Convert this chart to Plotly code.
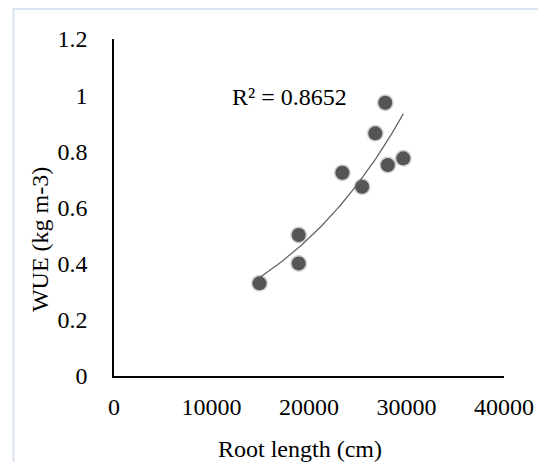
import numpy as np
import plotly.graph_objects as go

# root length (cm) vs water use efficiency (kg m-3)
root_length = [14920, 18940, 18940, 23420, 25450, 26800, 27820, 28080, 29670]
wue = [0.330, 0.502, 0.401, 0.724, 0.674, 0.864, 0.973, 0.751, 0.775]
x_ticks = [0, 10000, 20000, 30000, 40000]
y_ticks = [0, 0.2, 0.4, 0.6, 0.8, 1.0, 1.2]
r2_label = "R² = 0.8652"

font = "Liberation Serif, Times New Roman, serif"

# exponential trendline (Excel style: fit on log y)
b, ln_a = np.polyfit(root_length, np.log(wue), 1)
tx = np.linspace(min(root_length), max(root_length), 100)
ty = np.exp(ln_a) * np.exp(b * tx)

fig = go.Figure()
# soft shadow under the markers
fig.add_trace(go.Scatter(x=root_length, y=wue, mode="markers",
                         marker=dict(size=17, color="rgba(40,40,40,0.22)"),
                         hoverinfo="skip", showlegend=False))
fig.add_trace(go.Scatter(x=root_length, y=wue, mode="markers",
                         marker=dict(size=14, color="#555555"),
                         showlegend=False))
fig.add_trace(go.Scatter(x=tx, y=ty, mode="lines",
                         line=dict(color="#5f5f5f", width=1.2),
                         showlegend=False))

fig.update_xaxes(range=[0, 40000], tickvals=x_ticks, tickformat="d",
                 showgrid=False, zeroline=False, showline=True,
                 linecolor="black", linewidth=1.5, ticks="",
                 ticklabelstandoff=8,
                 tickfont=dict(family=font, size=24, color="black"))
fig.update_yaxes(range=[0, 1.2], tickvals=y_ticks,
                 showgrid=False, zeroline=False, showline=True,
                 linecolor="black", linewidth=1.5, ticks="",
                 ticklabelstandoff=20,
                 tickfont=dict(family=font, size=24, color="black"))

fig.add_annotation(x=18000, y=0.995, text=r2_label, showarrow=False,
                   font=dict(family=font, size=24, color="black"))
fig.add_annotation(x=0.476, y=-0.217, xref="paper", yref="paper",
                   text="Root length (cm)", showarrow=False,
                   xanchor="center", yanchor="middle",
                   font=dict(family=font, size=24, color="black"))
fig.add_annotation(x=-0.19, y=0.406, xref="paper", yref="paper",
                   text="WUE (kg m-3)", showarrow=False, textangle=-90,
                   xanchor="center", yanchor="middle",
                   font=dict(family=font, size=24, color="black"))

# chart area border (light blue, top-left edges visible)
fig.add_shape(type="rect", xref="paper", yref="paper",
              x0=-0.258, x1=1.3, y0=1.089, y1=-0.4,
              line=dict(color="#d9e3f0", width=2))

# page body has an 8px margin, so the figure is a bit smaller than the window
fig.update_layout(width=538, height=454,
                  margin=dict(l=106, r=35, t=31, b=86),
                  plot_bgcolor="white", paper_bgcolor="white")

fig.write_html("out.html")
